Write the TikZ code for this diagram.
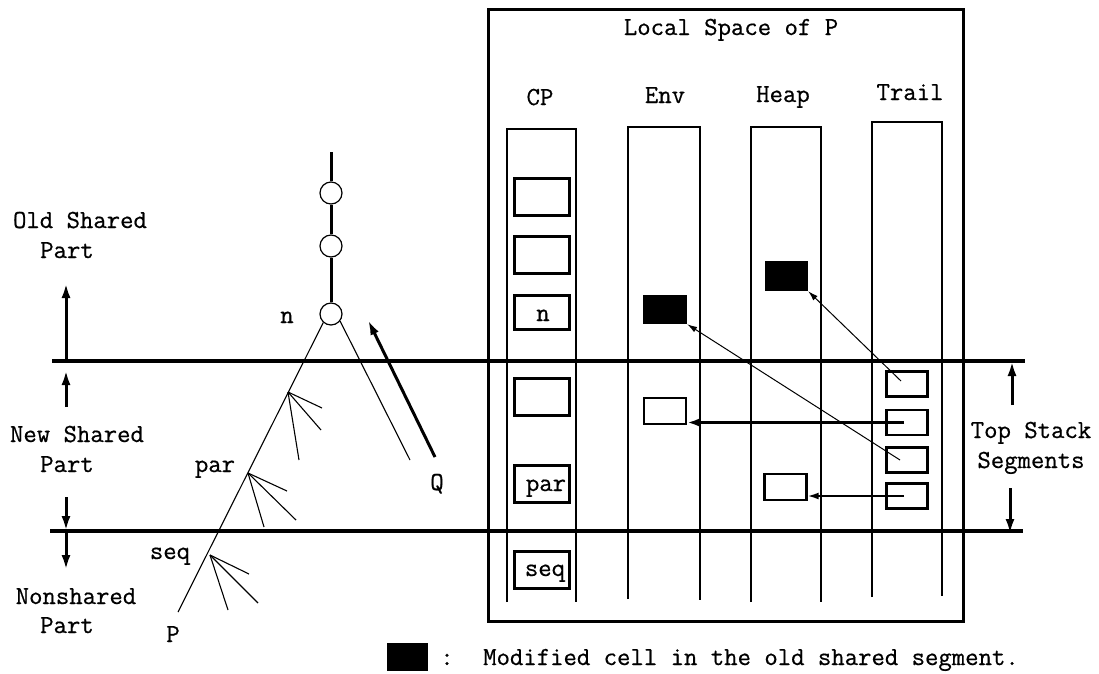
\documentclass[tikz,border=0pt]{standalone}
\usepackage{fontspec}
\setmonofont{Latin Modern Mono}[FakeBold=0.6]
\usetikzlibrary{arrows.meta}
\begin{document}
\begin{tikzpicture}[x=1pt,y=-1pt,
  txt/.style={font=\fontsize{26}{30}\selectfont\ttfamily, inner sep=0pt, anchor=base},
  sepline/.style={line width=3.6pt},
  colline/.style={line width=2.4pt},
  cell/.style={draw, line width=3pt, minimum width=55pt, minimum height=37pt, inner sep=0pt},
  tcell/.style={draw, line width=2.6pt, minimum width=41pt, minimum height=25pt, inner sep=0pt},
  wcell/.style={draw, line width=2.4pt, minimum width=42pt, minimum height=26pt, inner sep=0pt},
  blk/.style={fill=black, inner sep=0pt},
  bigarrow/.style={line width=3pt, -{Latex[length=15pt,width=9pt]}},
  midarrow/.style={line width=1.7pt, -{Latex[length=11pt,width=7pt]}},
  thinarrow/.style={line width=1pt, -{Latex[length=10pt,width=6pt]}},
  branch/.style={line width=1.1pt},
  knot/.style={circle, draw, line width=1.2pt, minimum size=22pt, inner sep=0pt},
]
\useasboundingbox (0,0) rectangle (1099,673);

% separators
\coordinate (s1l) at (52,361); \coordinate (s1r) at (1025,361);
\coordinate (s2l) at (50,531); \coordinate (s2r) at (1023,531);
\draw[sepline] (s1l) -- (s1r);
\draw[sepline] (s2l) -- (s2r);

% local space box
\draw[line width=3pt] (488,9) rectangle (963,621);
\node[txt] (title) at (731,35) {Local Space of P};

% column headers
\node[txt] (hcp) at (540,105) {CP};
\node[txt] (henv) at (665,103) {Env};
\node[txt] (hheap) at (783,102) {Heap};
\node[txt] (htrail) at (910,100) {Trail};

% columns
\draw[colline] (507,602) |- (576,129) -- (576,602);
\draw[colline] (628,599) |- (700,127) -- (700,600);
\draw[colline] (751,602) |- (821,127) -- (821,602);
\draw[colline] (872,597) |- (942,122) -- (942,596);

% CP cells
\node[cell] (cp1) at (542,197) {};
\node[cell] (cp2) at (542,255) {};
\node[cell, minimum height=34pt] (cpn) at (542,312.5) {};
\node[cell] (cp4) at (542,396.5) {};
\node[cell] (cppar) at (542,484) {};
\node[cell] (cpseq) at (542,569.5) {};
\node[txt] (tn) at (543,321) {n};
\node[txt] (tpar) at (546,491) {par};
\node[txt] (tseq) at (545,576) {seq};

% Env / Heap cells
\node[blk, minimum width=44pt, minimum height=29pt] (eb) at (665,309.5) {};
\node[blk, minimum width=43pt, minimum height=30pt] (hb) at (786.5,276) {};
\node[wcell] (ew) at (665,411) {};
\node[wcell] (hw) at (785.5,487) {};

% Trail cells
\node[tcell] (t1) at (907,384) {};
\node[tcell] (t2) at (907,422.5) {};
\node[tcell] (t3) at (907,460) {};
\node[tcell] (t4) at (907,496) {};

% trail pointers
\draw[thinarrow] ([shift={(-6,-3)}]t1.center) -- (hb.south east);
\draw[thinarrow] ([shift={(-7,0)}]t3.center) -- (eb.south east);
\draw[line width=3pt, -{Latex[length=12pt,width=8pt]}] ([xshift=-3pt]t2.center) -- (ew.east |- t2.center);
\draw[midarrow] ([xshift=-3pt]t4.center) -- (hw.east |- t4.center);

% tree
\coordinate (top) at (331,152);
\node[knot] (k1) at (331,193) {};
\node[knot] (k2) at (331,246) {};
\node[knot] (kn) at (331,314) {};
\draw[line width=3pt] (top) -- (k1.north);
\draw[line width=3pt] (k1.south) -- (k2.north);
\draw[line width=3pt] (k2.south) -- (kn.north);
\node[txt] (ln) at (287,323) {n};

\coordinate (pend) at (178,612);
\coordinate (qend) at (410,460);
\draw[branch] (kn.228) -- (pend);
\draw[branch] (kn.-38) -- (qend);

\coordinate (j1) at (288,392);
\coordinate (j1a) at (322,408); \coordinate (j1b) at (321,430); \coordinate (j1c) at (299,460);
\draw[branch] (j1) -- (j1a); \draw[branch] (j1) -- (j1b); \draw[branch] (j1) -- (j1c);
\coordinate (j2) at (248,473);
\coordinate (j2a) at (287,491); \coordinate (j2b) at (296,520); \coordinate (j2c) at (264,527);
\draw[branch] (j2) -- (j2a); \draw[branch] (j2) -- (j2b); \draw[branch] (j2) -- (j2c);
\coordinate (j3) at (210,555);
\coordinate (j3a) at (249,574); \coordinate (j3b) at (258,603); \coordinate (j3c) at (228,610);
\draw[branch] (j3) -- (j3a); \draw[branch] (j3) -- (j3b); \draw[branch] (j3) -- (j3c);

\node[txt] (lpar) at (215,472) {par};
\node[txt] (lseq) at (170,559) {seq};
\node[txt] (lP) at (173,642) {P};
\node[txt] (lQ) at (437,490) {Q};

\coordinate (qa) at (435,457); \coordinate (qb) at (368,320);
\draw[bigarrow] (qa) -- (qb);

% left labels and arrows
\node[txt] (old1) at (80,228) {Old Shared};
\node[txt] (old2) at (67,258) {Part};
\node[txt] (new1) at (77,442) {New Shared};
\node[txt] (new2) at (67,472) {Part};
\node[txt] (non1) at (76,604) {Nonshared};
\node[txt] (non2) at (67,633) {Part};

\coordinate (a1s) at (66,361); \coordinate (a1e) at (66,283);
\coordinate (a2s) at (66,407); \coordinate (a2e) at (66,370);
\coordinate (a3s) at (66,497); \coordinate (a3e) at (66,531);
\coordinate (a4s) at (66,531); \coordinate (a4e) at (66,570);
\draw[bigarrow] (a1s) -- (a1e);
\draw[bigarrow] (a2s) -- (a2e);
\draw[bigarrow] (a3s) -- (a3e);
\draw[bigarrow] (a4s) -- (a4e);

% right labels and arrows
\node[txt] (ts1) at (1031,438) {Top Stack};
\node[txt] (ts2) at (1031,468) {Segments};
\coordinate (r1s) at (1012,405); \coordinate (r1e) at (1012,361);
\coordinate (r2s) at (1010,488); \coordinate (r2e) at (1010,534);
\draw[bigarrow] (r1s) -- (r1e);
\draw[bigarrow] (r2s) -- (r2e);

% legend
\node[blk, minimum width=41pt, minimum height=28pt] (lg) at (407.5,657) {};
\node[txt] (colon) at (447,665) {:};
\node[txt, anchor=base west] (lgt) at (483,665) {Modified cell in the old shared segment.};
\end{tikzpicture}
\end{document}
